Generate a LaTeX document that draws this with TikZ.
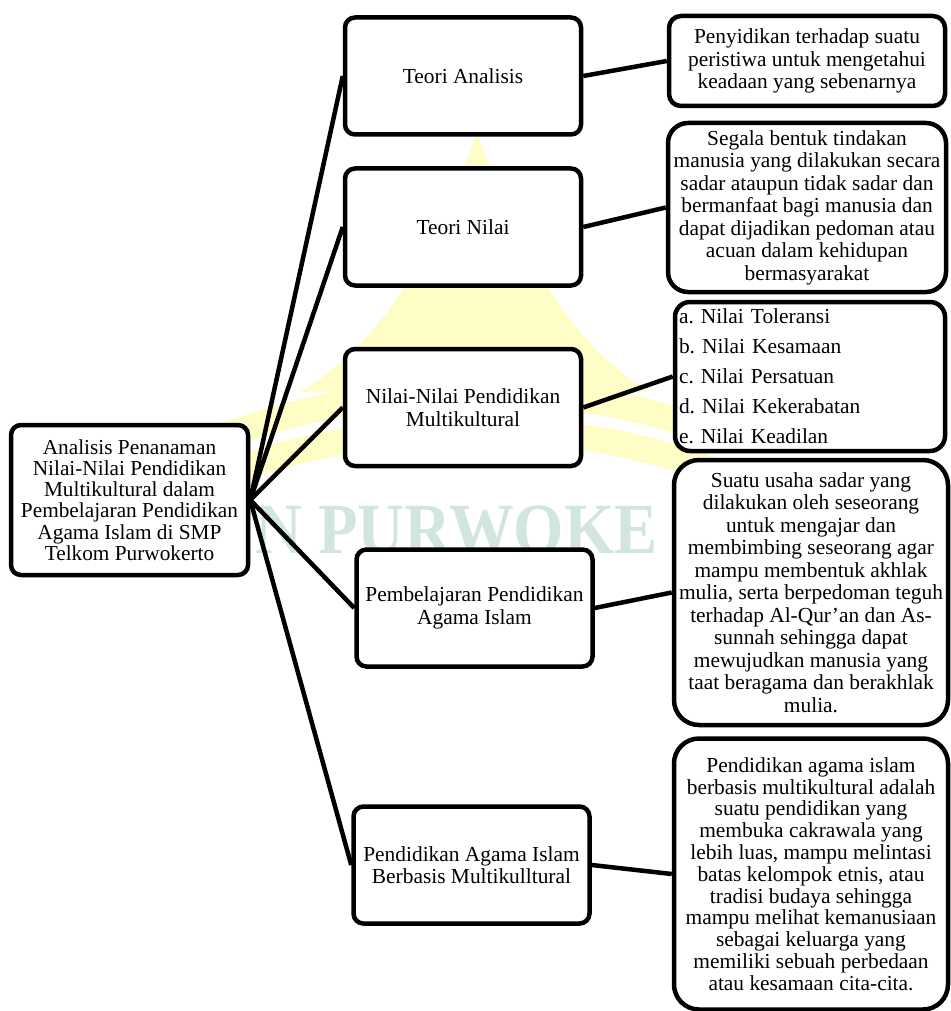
\documentclass[tikz,border=0pt]{standalone}
\usepackage{fontspec}
\setmainfont{Liberation Serif}
\newcommand\diafont{\fontsize{21.4}{22.5}\selectfont\frenchspacing}
\definecolor{wmyellow}{HTML}{FFFDC6}
\definecolor{wmteal}{HTML}{D3E6DE}
\begin{document}
\begin{tikzpicture}[x=1pt,y=-1pt,
  box/.style={draw=black, line width=4.5pt, fill=white, rounded corners=10pt,
    align=center, inner sep=4pt, font=\diafont},
  midbox/.style={box, minimum width=236pt, minimum height=117pt},
  rbox/.style={box, rounded corners=18pt},
  conn/.style={line width=4.5pt}]
\useasboundingbox (0,0) rectangle (950,1011);
% watermark
\fill[wmyellow] (477,134) .. controls (515,230) and (555,335) .. (650,392)
  -- (300,392) .. controls (395,335) and (440,230) .. (477,134) -- cycle;
\draw[wmyellow, line width=26pt] (215,440) .. controls (380,375) and (570,375) .. (735,440);
\draw[wmyellow, line width=26pt] (215,478) .. controls (380,413) and (570,413) .. (735,478);
\node[anchor=base west, text=wmteal, inner sep=0pt]
  (wm) at (255,553) {\scalebox{0.9}[1]{\fontsize{72}{72}\selectfont\bfseries N PURWOKE}};
% root
\node[box, minimum width=237pt, minimum height=150pt, font=\fontsize{21.3}{21.3}\selectfont]
  (root) at (129.5,500) {Analisis Penanaman\\Nilai-Nilai Pendidikan\\Multikultural dalam\\Pembelajaran Pendidikan\\Agama Islam di SMP\\Telkom Purwokerto};
% middle column
\node[midbox] (ta) at (463,76) {Teori Analisis};
\node[midbox] (tn) at (463,227) {Teori Nilai};
\node[midbox] (nn) at (463,407.5) {Nilai-Nilai Pendidikan\\Multikultural};
\node[midbox] (pb) at (474.5,608) {Pembelajaran Pendidikan\\Agama Islam};
\node[midbox] (pai) at (471.5,865) {Pendidikan Agama Islam\\Berbasis Multikulltural};
% right column
\node[rbox, rounded corners=12pt, minimum width=276pt, minimum height=90pt] (r1) at (807,61)
  {Penyidikan terhadap suatu\\peristiwa untuk mengetahui\\keadaan yang sebenarnya};
\node[rbox, rounded corners=20pt, minimum width=278pt, minimum height=169pt] (r2) at (807,207.5)
  {Segala bentuk tindakan\\manusia yang dilakukan secara\\sadar ataupun tidak sadar dan\\bermanfaat bagi manusia dan\\dapat dijadikan pedoman atau\\acuan dalam kehidupan\\bermasyarakat};
\node[rbox, rounded corners=15pt, minimum width=270pt, minimum height=149pt,
  text width=262pt, align=left, inner xsep=2pt, font=\fontsize{21.4}{30}\selectfont\frenchspacing] (r3) at (810,376.5)
  {a. Nilai Toleransi\\b. Nilai Kesamaan\\c. Nilai Persatuan\\d. Nilai Kekerabatan\\e. Nilai Keadilan};
\node[rbox, rounded corners=25pt, minimum width=274pt, minimum height=265pt] (r4) at (811,592.5)
  {Suatu usaha sadar yang\\dilakukan oleh seseorang\\untuk mengajar dan\\membimbing seseorang agar\\mampu membentuk akhlak\\mulia, serta berpedoman teguh\\terhadap Al-Qur’an dan As-\\sunnah sehingga dapat\\mewujudkan manusia yang\\taat beragama dan berakhlak\\mulia.};
\node[rbox, rounded corners=25pt, minimum width=274pt, minimum height=271pt,
  font=\fontsize{21.4}{21.8}\selectfont\frenchspacing] (r5) at (811,874)
  {Pendidikan agama islam\\berbasis multikultural adalah\\suatu pendidikan yang\\membuka cakrawala yang\\lebih luas, mampu melintasi\\batas kelompok etnis, atau\\tradisi budaya sehingga\\mampu melihat kemanusiaan\\sebagai keluarga yang\\memiliki sebuah perbedaan\\atau kesamaan cita-cita.};
% connectors
\foreach \m in {ta,tn,nn,pb,pai} \draw[conn] (root.east) -- (\m.west);
\draw[conn] (ta.east) -- (r1.west);
\draw[conn] (tn.east) -- (r2.west);
\draw[conn] (nn.east) -- (r3.west);
\draw[conn] (pb.east) -- (r4.west);
\draw[conn] (pai.east) -- (r5.west);
\end{tikzpicture}
\end{document}
